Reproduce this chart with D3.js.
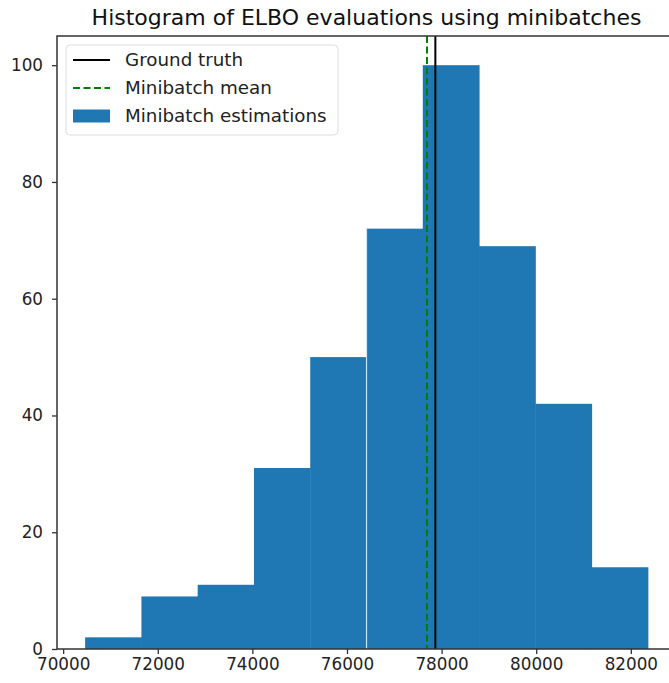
<!DOCTYPE html>
<html lang="en">
<head>
  <meta charset="UTF-8">
  <title>Histogram of ELBO evaluations using minibatches</title>
  <script src="https://d3js.org/d3.v7.min.js"></script>
  <style>
    body { background: #fff; margin: 0; }
    svg { display: block; font-family: "DejaVu Sans", sans-serif; }
    .tick text { fill: #222; }
  </style>
</head>
<body>
  <svg width="669" height="683"></svg>

  <script>
// histogram bins
const binEdges = [70465, 71655, 72844, 74034, 75223, 76413, 77602, 78792, 79981, 81171, 82360];
const counts = [2, 9, 11, 31, 50, 72, 100, 69, 42, 14];
const groundTruth = 77868;
const minibatchMean = 77691;
const xTicks = [70000, 72000, 74000, 76000, 78000, 80000, 82000];
const yTicks = [0, 20, 40, 60, 80, 100];
const legendLabels = ["Ground truth", "Minibatch mean", "Minibatch estimations"];

const svg = d3.select("svg");
const plotL = 57, plotR = 676, plotT = 36, plotB = 649;

const bins = counts.map((c, i) => ({ x0: binEdges[i], x1: binEdges[i + 1], n: c }));

// matplotlib style 5% margins
const lo = binEdges[0], hi = binEdges[binEdges.length - 1];
const pad = (hi - lo) * 0.05;
const x = d3.scaleLinear().domain([lo - pad, hi + pad]).range([plotL, plotR]);
const y = d3.scaleLinear().domain([0, d3.max(counts) * 1.05]).range([plotB, plotT]);

// bars
svg.append("g").selectAll("rect")
  .data(bins)
  .enter()
  .append("rect")
  .attr("x", d => x(d.x0))
  .attr("y", d => y(d.n))
  .attr("width", d => x(d.x1) - x(d.x0) + 0.5)
  .attr("height", d => y(0) - y(d.n))
  .attr("fill", "#1f77b4");

// faint seam that shows between two bars in the original
svg.append("line")
  .attr("x1", x(binEdges[5])).attr("x2", x(binEdges[5]))
  .attr("y1", y(counts[5])).attr("y2", y(0))
  .attr("stroke", "#cfe0ee").attr("stroke-width", 1.2);

// reference lines
svg.append("line")
  .attr("x1", x(minibatchMean)).attr("x2", x(minibatchMean))
  .attr("y1", plotT).attr("y2", plotB)
  .attr("stroke", "#008000").attr("stroke-width", 2)
  .attr("stroke-dasharray", "7,3.5");

svg.append("line")
  .attr("x1", x(groundTruth)).attr("x2", x(groundTruth))
  .attr("y1", plotT).attr("y2", plotB)
  .attr("stroke", "#000").attr("stroke-width", 2);

// axes
const xAxis = svg.append("g")
  .attr("transform", `translate(0,${plotB})`)
  .call(d3.axisBottom(x).tickValues(xTicks).tickFormat(d3.format("d")).tickSize(5).tickPadding(4));
const yAxis = svg.append("g")
  .attr("transform", `translate(${plotL},0)`)
  .call(d3.axisLeft(y).tickValues(yTicks).tickSize(5).tickPadding(9));

[xAxis, yAxis].forEach(a => {
  a.selectAll("text").attr("font-size", 16.8).attr("font-family", "DejaVu Sans");
  a.selectAll(".tick line").attr("stroke", "#333").attr("stroke-width", 1.3);
  a.select(".domain").remove();
});

// spines (right one falls outside the picture)
svg.append("rect")
  .attr("x", plotL).attr("y", plotT)
  .attr("width", plotR - plotL).attr("height", plotB - plotT)
  .attr("fill", "none").attr("stroke", "#333").attr("stroke-width", 1.5);

// title
svg.append("text")
  .attr("x", (plotL + plotR) / 2)
  .attr("y", 25)
  .attr("text-anchor", "middle")
  .attr("font-size", 22)
  .attr("fill", "#111")
  .text("Histogram of ELBO evaluations using minibatches");

// legend
const lg = svg.append("g");
lg.append("rect")
  .attr("x", 66).attr("y", 45)
  .attr("width", 272).attr("height", 90)
  .attr("rx", 4)
  .attr("fill", "#fff").attr("fill-opacity", 0.85)
  .attr("stroke", "#ddd");

const rowY = [60, 88, 116];
lg.append("line")
  .attr("x1", 73).attr("x2", 110).attr("y1", rowY[0]).attr("y2", rowY[0])
  .attr("stroke", "#000").attr("stroke-width", 2);
lg.append("line")
  .attr("x1", 73).attr("x2", 110).attr("y1", rowY[1]).attr("y2", rowY[1])
  .attr("stroke", "#008000").attr("stroke-width", 2)
  .attr("stroke-dasharray", "7,3.5");
lg.append("rect")
  .attr("x", 73).attr("y", rowY[2] - 6.5)
  .attr("width", 37).attr("height", 13)
  .attr("fill", "#1f77b4");

lg.selectAll("text.lbl")
  .data(legendLabels)
  .enter()
  .append("text")
  .attr("class", "lbl")
  .attr("x", 125)
  .attr("y", (d, i) => rowY[i])
  .attr("dy", "0.35em")
  .attr("font-size", 18.3)
  .attr("fill", "#222")
  .text(d => d);
  </script>
</body>
</html>
